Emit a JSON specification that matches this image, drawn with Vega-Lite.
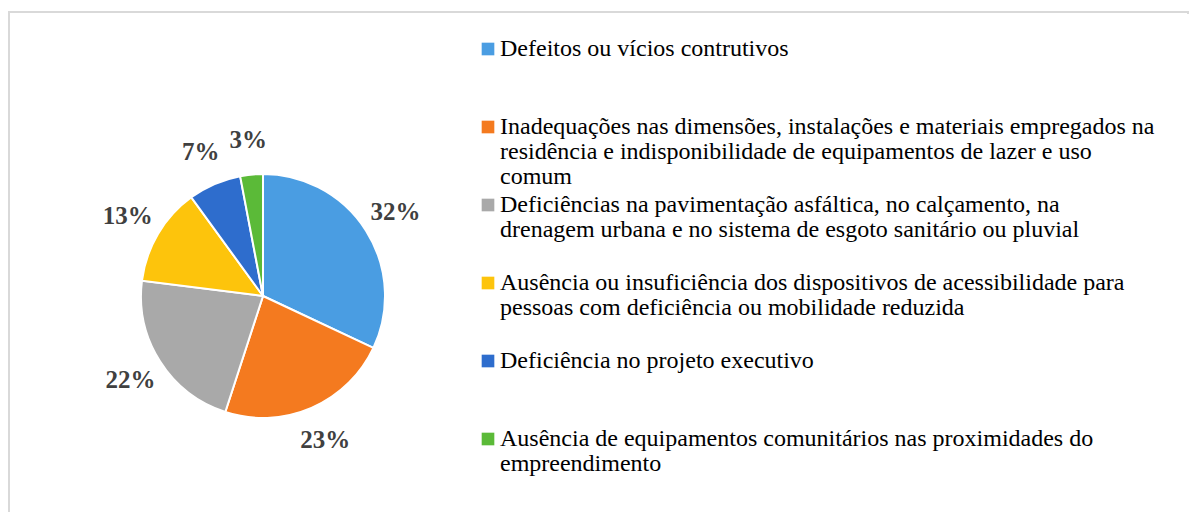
{
  "$schema": "https://vega.github.io/schema/vega-lite/v6.json",
  "width": 1189,
  "height": 519,
  "autosize": {"type": "fit", "contains": "padding"},
  "padding": {"left": 8, "top": 11, "right": 0, "bottom": 0},
  "background": "#ffffff",
  "config": {
    "view": {"stroke": null},
    "style": {"guide-label": {"lineHeight": 25, "font": "Liberation Serif"}},
    "legend": {
      "labelFont": "Liberation Serif",
      "labelFontSize": 24,
      "labelColor": "#000000",
      "labelLimit": 2000,
      "symbolType": "square",
      "symbolSize": 160,
      "symbolStrokeWidth": 0,
      "rowPadding": 4,
      "labelOffset": 0
    }
  },
  "layer": [
    {
      "data": {"values": [{}]},
      "mark": {"type": "rect", "fill": null, "stroke": "#d9d9d9", "strokeWidth": 2, "strokeDash": [1181, 1689, 508, 0]},
      "encoding": {}
    },
    {
      "data": {
        "values": [
          {"categoria": "Defeitos ou vícios contrutivos", "pct": 0.32},
          {"categoria": "Inadequações nas dimensões, instalações e materiais empregados na\nresidência e indisponibilidade de equipamentos de lazer e uso\ncomum", "pct": 0.23},
          {"categoria": "Deficiências na pavimentação asfáltica, no calçamento, na\ndrenagem urbana e no sistema de esgoto sanitário ou pluvial", "pct": 0.22},
          {"categoria": "Ausência ou insuficiência dos dispositivos de acessibilidade para\npessoas com deficiência ou mobilidade reduzida", "pct": 0.13},
          {"categoria": "Deficiência no projeto executivo", "pct": 0.07},
          {"categoria": "Ausência de equipamentos comunitários nas proximidades do\nempreendimento", "pct": 0.03}
        ]
      },
      "encoding": {
        "theta": {"field": "pct", "type": "quantitative", "stack": true},
        "order": {"field": "pct", "type": "quantitative", "sort": "descending"}
      },
      "layer": [
        {
          "mark": {"type": "arc", "outerRadius": 122, "x": 254, "y": 284, "stroke": "#ffffff", "strokeWidth": 2},
          "encoding": {
            "color": {
              "field": "categoria",
              "type": "nominal",
              "sort": null,
              "scale": {"range": ["#4a9de2", "#f47a1f", "#a9a9a9", "#fdc40c", "#2e6dcd", "#5bba38"]},
              "legend": {
                "title": null,
                "orient": "none",
                "legendX": 467,
                "legendY": 25,
                "labelFont": "Liberation Serif",
                "labelBaseline": "middle",
                "labelExpr": "slice(split(datum.label + '\\n \\n ', '\\n'), 0, 3)"
              }
            }
          }
        },
        {
          "mark": {"type": "text", "radius": 157, "x": 254, "y": 284, "font": "Liberation Serif", "fontSize": 25, "fontWeight": "bold", "fill": "#404040"},
          "encoding": {
            "text": {"field": "pct", "type": "quantitative", "format": ".0%"}
          }
        }
      ]
    }
  ]
}
